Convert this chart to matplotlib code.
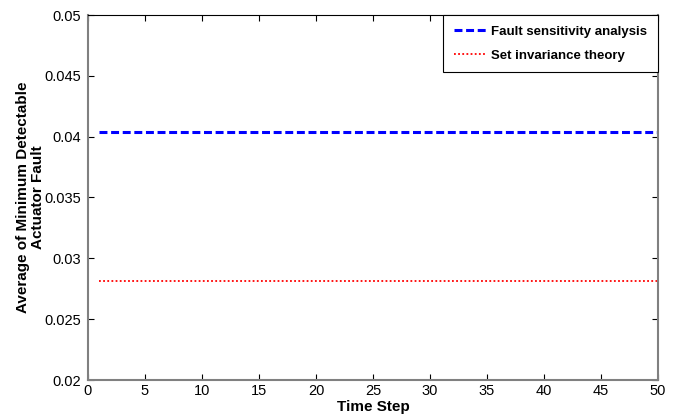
import numpy as np
import matplotlib
matplotlib.use("Agg")
import matplotlib.pyplot as plt

plt.rcParams['font.family'] = ['Liberation Sans', 'DejaVu Sans']

# time steps 1..50
steps = list(range(1, 51))
# average minimum detectable actuator fault
fault_sensitivity = [0.0404, 0.0404, 0.0404, 0.0404, 0.0404, 0.0404, 0.0404, 0.0404, 0.0404, 0.0404,
                     0.0404, 0.0404, 0.0404, 0.0404, 0.0404, 0.0404, 0.0404, 0.0404, 0.0404, 0.0404,
                     0.0404, 0.0404, 0.0404, 0.0404, 0.0404, 0.0404, 0.0404, 0.0404, 0.0404, 0.0404,
                     0.0404, 0.0404, 0.0404, 0.0404, 0.0404, 0.0404, 0.0404, 0.0404, 0.0404, 0.0404,
                     0.0404, 0.0404, 0.0404, 0.0404, 0.0404, 0.0404, 0.0404, 0.0404, 0.0404, 0.0404]
set_invariance = [0.0281, 0.0281, 0.0281, 0.0281, 0.0281, 0.0281, 0.0281, 0.0281, 0.0281, 0.0281,
                  0.0281, 0.0281, 0.0281, 0.0281, 0.0281, 0.0281, 0.0281, 0.0281, 0.0281, 0.0281,
                  0.0281, 0.0281, 0.0281, 0.0281, 0.0281, 0.0281, 0.0281, 0.0281, 0.0281, 0.0281,
                  0.0281, 0.0281, 0.0281, 0.0281, 0.0281, 0.0281, 0.0281, 0.0281, 0.0281, 0.0281,
                  0.0281, 0.0281, 0.0281, 0.0281, 0.0281, 0.0281, 0.0281, 0.0281, 0.0281, 0.0281]
xticks = [0, 5, 10, 15, 20, 25, 30, 35, 40, 45, 50]
yticks = [0.02, 0.025, 0.03, 0.035, 0.04, 0.045, 0.05]
ytick_labels = ['0.02', '0.025', '0.03', '0.035', '0.04', '0.045', '0.05']

fig = plt.figure(figsize=(6.84, 4.16), dpi=100)
ax = fig.add_axes([88/684, 1 - 380/416, 570/684, 365/416])

ax.plot(steps, fault_sensitivity, color='#0000ff', linestyle=(0, (2.6, 1.2)), linewidth=2.2,
        label='Fault sensitivity analysis')
ax.plot(steps, set_invariance, color='#ff0000', linestyle=(0, (1, 1.3)), linewidth=1.3,
        label='Set invariance theory')

ax.set_xlim(0, 50)
ax.set_ylim(0.02, 0.05)
ax.set_xticks(xticks)
ax.set_yticks(yticks)
ax.set_yticklabels(ytick_labels)
ax.tick_params(direction='in', top=True, right=True, length=4, labelsize=10.5, colors='black')
ax.tick_params(axis='y', pad=5)
ax.tick_params(axis='x', pad=3)
for s in ['left', 'bottom', 'right']:
    ax.spines[s].set_color('#808080')
    ax.spines[s].set_linewidth(1.5)
ax.spines['top'].set_color('black')
ax.spines['top'].set_linewidth(0.8)

ax.set_xlabel('Time Step', fontsize=11, fontweight='bold', labelpad=1)
ax.set_ylabel('Average of Minimum Detectable\nActuator Fault', fontsize=11, fontweight='bold',
              linespacing=1.1)
ax.yaxis.set_label_coords(-0.076, 0.5)

leg = ax.legend(loc='upper right', prop={'size': 9.5, 'weight': 'bold'}, fancybox=False,
                framealpha=1, edgecolor='black', borderpad=0.8, handlelength=2.4,
                handletextpad=0.45, labelspacing=0.9, borderaxespad=0)
leg.get_frame().set_linewidth(0.8)

fig.savefig('out.png', dpi=100)
